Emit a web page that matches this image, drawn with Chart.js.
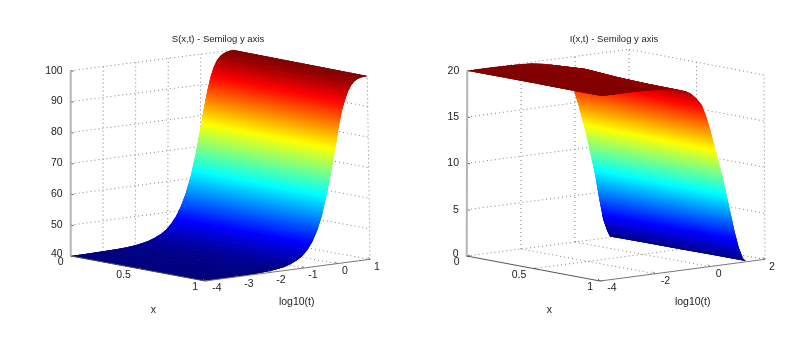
<!DOCTYPE html>
<html><head><meta charset="utf-8">
<script src="https://cdn.jsdelivr.net/npm/chart.js@4"></script>
<style>html,body{margin:0;padding:0;background:#fff;width:805px;height:340px;overflow:hidden}
canvas{position:absolute;top:0;filter:blur(.3px)}</style></head>
<body><canvas id="a" style="left:0" width="436" height="340"></canvas><canvas id="b" style="left:423px" width="382" height="340"></canvas>
<script>
// ---- data ----
const sT=[-4,-3.5,-3,-2.6,-2.3,-2,-1.8,-1.6,-1.4,-1.2,-1.05,-.9,-.75,-.6,-.45,-.3,-.15,0,.1,.2,.3,.4,.5,.6,.7,.8,.9,1];
const sX=[0,.5,1];
const sAtX0=[40,40.02,40.1,40.2,40.4,40.7,41,41.5,42.3,43.3,44.4,46,48.2,51.2,55.2,60.5,67.5,76,82,87.5,92,95.2,97.3,98.6,99.3,99.7,99.9,100];
const sAtX50=[40,40.02,40.1,40.2,40.4,40.6,40.9,41.4,42.1,43.1,44.2,45.8,48,51.2,55.6,61.2,68.6,77,83,88.5,92.6,95.6,97.5,98.7,99.4,99.7,99.9,100];
const sAtX100=[40,40.02,40.08,40.15,40.3,40.5,40.8,41.2,41.9,42.9,44,45.6,48,51.4,56,62.5,70,78.5,84.5,89.5,93,95.8,97.6,98.8,99.4,99.8,99.9,100];
const iT=[-4,-3.4,-2.8,-2.3,-1.9,-1.6,-1.3,-1.1,-.9,-.7,-.5,-.3,-.15,0,.15,.3,.45,.6,.75,.9,1.05,1.2,1.3];
const iX=[0,.25,.5,.75,1];
const iAtX0=[20,20,20,19.97,19.92,19.85,19.72,19.6,19.45,19.15,18.7,18,17.1,16,14.5,12.8,11,9,6.9,4.3,2,.7,.1];
const iAtX25=[20,20,20,19.98,19.95,19.92,19.87,19.82,19.7,19.5,19.1,18.4,17.5,16.2,14.6,12.8,10.9,8.9,6.7,4.2,2,.6,.1];
const iAtX50=[20,20,20,19.97,19.92,19.86,19.76,19.65,19.48,19.2,18.7,18,17,15.7,14.1,12.3,10.4,8.4,6.2,3.9,1.8,.5,.1];
const iAtX75=[20,20,20,19.96,19.9,19.83,19.7,19.56,19.35,19.03,18.5,17.7,16.6,15.2,13.6,11.8,10,8,5.8,3.6,1.7,.45,.1];
const iAtX100=[20,20,20,19.95,19.88,19.8,19.68,19.53,19.33,19,18.4,17.6,16.4,14.9,13.2,11.4,9.6,7.6,5.5,3.4,1.6,.4,.1];
const sZTicks=[40,50,60,70,80,90,100], iZTicks=[0,5,10,15,20];
const sTTicks=[-4,-3,-2,-1,0,1], iTTicks=[-4,-2,0,2];
const xTicks=[0,.5,1];
// ---- view of each panel: page position of the eight box corners ----
const panels=[
 {id:'a',left:0,width:436,title:'S(x,t) - Semilog y axis',T:sT,X:sX,Z:[sAtX0,sAtX50,sAtX100],zTicks:sZTicks,tTicks:sTTicks,
  tr:[-4,1],zr:[40,100],xLabel:[153.3,310],tLabel:[296.7,301.7],
  c:{A0:[70.7,256],A1:[70.7,70.7],B0:[205,281],B1:[205,95.5],C0:[370,259.3],C1:[367.3,76],D0:[232.3,234.3],D1:[233.3,50]}},
 {id:'b',left:423,width:382,title:'I(x,t) - Semilog y axis',T:iT,X:iX,Z:[iAtX0,iAtX25,iAtX50,iAtX75,iAtX100],zTicks:iZTicks,tTicks:iTTicks,
  tr:[-4,2],zr:[0,20],xLabel:[549.3,310],tLabel:[692.7,301.7],
  c:{A0:[466.7,256],A1:[467.3,70.7],B0:[600,281],B1:[601.7,96],C0:[765,259.3],C1:[764,75],D0:[629,235],D1:[629,49.3]}}
];
const FONT='"Liberation Sans", Arial, sans-serif', TXT='#222';
function clamp(v){return Math.max(0,Math.min(1,v));}
function jet(v){const f=k=>Math.round(255*clamp(1.5-Math.abs(4*v-k)));return `rgb(${f(3)},${f(2)},${f(1)})`;}
// fills each surface patch from the points the library placed, with a colour ramp across the patch
const patchFill={id:'patchFill',beforeDatasetDraw(ch,args){
  const ds=ch.data.datasets[args.index]; if(!ds.patch) return;
  const pts=args.meta.data, c=ch.ctx, [va,vb,vc]=ds.patch;
  const A=[pts[0].x,pts[0].y],B=[pts[1].x,pts[1].y],C=[pts[2].x,pts[2].y];
  const d=(B[0]-A[0])*(C[1]-A[1])-(C[0]-A[0])*(B[1]-A[1]);
  let style=jet((va+vb+vc)/3);
  if(Math.abs(d)>=.01){
    const gx=((vb-va)*(C[1]-A[1])-(vc-va)*(B[1]-A[1]))/d, gy=((vc-va)*(B[0]-A[0])-(vb-va)*(C[0]-A[0]))/d;
    const gg=gx*gx+gy*gy, lo=Math.min(va,vb,vc), hi=Math.max(va,vb,vc);
    if(gg>1e-12&&hi-lo>1e-4){
      const s0=(lo-va)/gg,s1=(hi-va)/gg;
      style=c.createLinearGradient(A[0]+gx*s0,A[1]+gy*s0,A[0]+gx*s1,A[1]+gy*s1);
      for(let s=0;s<=8;s++) style.addColorStop(s/8,jet(lo+(hi-lo)*s/8));
    }
  }
  c.save();c.beginPath();c.moveTo(A[0],A[1]);c.lineTo(B[0],B[1]);c.lineTo(C[0],C[1]);c.closePath();
  c.fillStyle=style;c.fill();c.fill();c.fill();c.restore();
}};
function render(p){
  const prj=(x,t,z)=>{
    const u=x,v=(t-p.tr[0])/(p.tr[1]-p.tr[0]),w=(z-p.zr[0])/(p.zr[1]-p.zr[0]),c=p.c;
    const out={};
    for(const k of ['x','y']){const i=k==='x'?0:1;
      const b=(1-u)*(1-v)*c.A0[i]+u*(1-v)*c.B0[i]+u*v*c.C0[i]+(1-u)*v*c.D0[i];
      const a=(1-u)*(1-v)*c.A1[i]+u*(1-v)*c.B1[i]+u*v*c.C1[i]+(1-u)*v*c.D1[i];
      out[k]=b*(1-w)+a*w;}
    return out;};
  const seg=(a,b,col,w,dash)=>({data:[a,b],borderColor:col,borderWidth:w,borderDash:dash||[],pointRadius:0,fill:false,showLine:true,tension:0});
  const ds=[];
  const [z0,z1]=p.zr,[t0,t1]=p.tr;
  // axes
  ds.push(seg(prj(0,t0,z0),prj(0,t0,z1),'#b4b4b4',2));
  ds.push(seg(prj(0,t0,z0),prj(1,t0,z0),'#555',1));
  ds.push(seg(prj(1,t0,z0),prj(1,t1,z0),'#777',1));
  for(const z of p.zTicks){const a=prj(0,t0,z);ds.push(seg(a,{x:a.x+3,y:a.y+.5},'#666',1));}
  for(const t of p.tTicks){const a=prj(1,t,z0);ds.push(seg(a,{x:a.x-2,y:a.y-2},'#666',1));}
  for(const x of xTicks){const a=prj(x,t0,z0);ds.push(seg(a,{x:a.x+3,y:a.y-.5},'#666',1));}
  // surface as shaded triangles, near patches first (the library paints the last dataset first)
  const norm=z=>(z-z0)/(z1-z0);
  const tri=(a,b,c,va,vb,vc)=>ds.push({data:[a,b,c],patch:[va,vb,vc],showLine:false,pointRadius:0,borderWidth:0,fill:false});
  const nT=p.T.length,nX=p.X.length;
  for(let i=0;i<nT-1;i++){
    for(let j=nX-2;j>=0;j--){
      const pt=(J,I)=>prj(p.X[J],p.T[I],p.Z[J][I]), v=(J,I)=>norm(p.Z[J][I]);
      tri(pt(j+1,i),pt(j,i),pt(j+1,i+1),v(j+1,i),v(j,i),v(j+1,i+1));
      tri(pt(j,i),pt(j,i+1),pt(j+1,i+1),v(j,i),v(j,i+1),v(j+1,i+1));
    }
  }
  // dotted grid
  const G='#808080',D=[1,3];
  const line=(a,b)=>ds.push(seg(a,b,G,1,D));
  for(const z of p.zTicks){ if(z!==z0){line(prj(0,t0,z),prj(0,t1,z));} line(prj(0,t1,z),prj(1,t1,z)); }
  for(const t of p.tTicks){ if(t!==t0){line(prj(0,t,z0),prj(0,t,z1));} if(t!==t0&&t!==t1) line(prj(0,t,z0),prj(1,t,z0)); }
  line(prj(1,t1,z0),prj(1,t1,z1));
  for(const x of xTicks){ if(x>0&&x<1){line(prj(x,t1,z0),prj(x,t1,z1));} if(x<1) line(prj(x,t0,z0),prj(x,t1,z0)); }
  const textPlugin={id:'labels3d',afterDraw(ch){
    const c=ch.ctx,sx=ch.scales.x,sy=ch.scales.y;
    const put=(txt,o,dx,dy,al)=>{c.textAlign=al;c.fillText(txt,sx.getPixelForValue(o.x)+dx,sy.getPixelForValue(o.y)+dy);};
    c.save();c.fillStyle=TXT;c.font='10.5px '+FONT;c.textBaseline='middle';
    for(const z of p.zTicks) put(String(z),prj(0,t0,z),-8,z===z0?-1.5:0,'right');
    for(const x of xTicks) put(String(x),prj(x,t0,z0),-7,6.5,'right');
    for(const t of p.tTicks) put(String(t),prj(1,t,z0),12-5*(t-t0)/(t1-t0),7.5,'center');
    put('x',{x:p.xLabel[0],y:p.xLabel[1]},0,0,'center');
    put('log10(t)',{x:p.tLabel[0],y:p.tLabel[1]},0,0,'center');
    c.restore();}};
  new Chart(document.getElementById(p.id),{type:'scatter',data:{datasets:ds},plugins:[patchFill,textPlugin],options:{
    responsive:false,animation:false,events:[],clip:false,
    layout:{padding:0},
    plugins:{legend:{display:false},tooltip:{enabled:false},
      title:{display:true,text:p.title,color:TXT,font:{family:FONT,size:9.5,weight:'normal',lineHeight:1.2},padding:{top:33.3,bottom:5.3}}},
    scales:{x:{type:'linear',display:false,min:p.left,max:p.left+p.width},y:{type:'linear',display:false,reverse:true,min:50,max:340}}
  }});
}
panels.forEach(render);
</script></body></html>
